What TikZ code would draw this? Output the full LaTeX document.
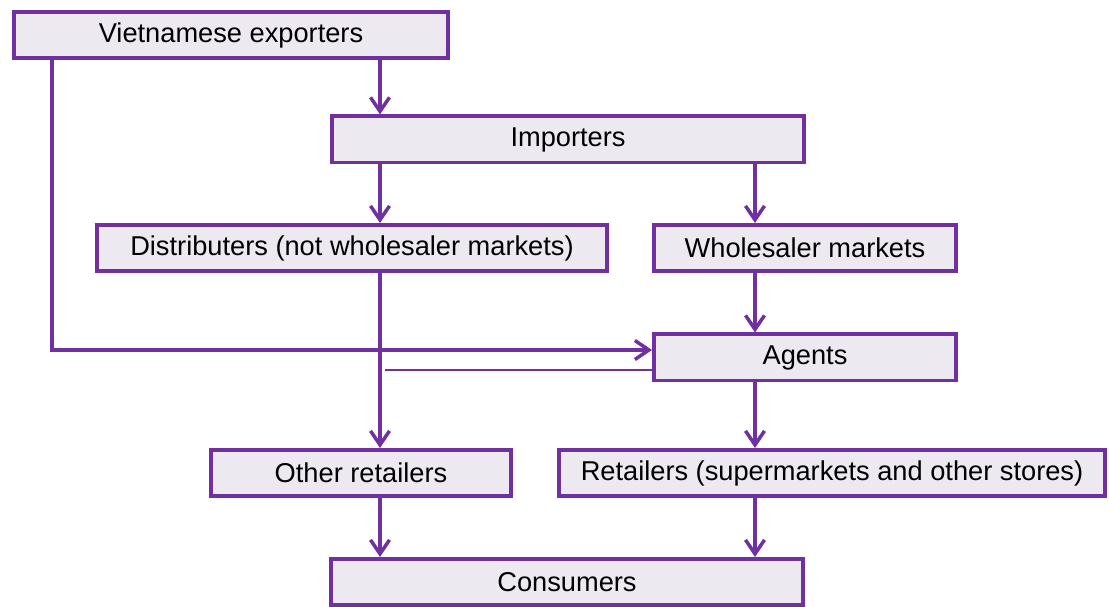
\documentclass[tikz,border=0pt]{standalone}
\usepackage{fontspec}
\setmainfont{Liberation Sans}
\usetikzlibrary{arrows.meta}
\definecolor{boxline}{RGB}{112,48,160}
\definecolor{boxfill}{RGB}{236,233,241}

\tikzset{
  flow/.style={draw=boxline, line width=2pt,
    -{Straight Barb[length=2.8mm, width=3.8mm]}}
}

\begin{document}
\begin{tikzpicture}[x=0.02cm, y=-0.02cm,
  every node/.style={draw=boxline, fill=boxfill, line width=2pt,
    minimum height=0.93cm, inner sep=0, font=\fontsize{15.5}{18}\selectfont}]
  \useasboundingbox (0,0) rectangle (1109,607);

  \node[minimum width=8.69cm]
    (vn) at (231, 35) {Vietnamese exporters};

  \node[minimum width=9.45cm]
    (imp) at (568, 139.5) {Importers};

  \node[minimum width=10.21cm]
    (dist) at (352, 248) {Distributers (not wholesaler markets)};

  \node[minimum width=6.05cm]
    (whole) at (805, 248) {Wholesaler markets};

  \node[minimum width=6.05cm]
    (ag) at (805, 357.5) {Agents};

  \node[minimum width=6.01cm]
    (oret) at (361, 473) {Other retailers};

  \node[minimum width=10.93cm]
    (ret) at (832, 473) {Retailers (supermarkets and other stores)};

  \node[minimum width=9.45cm]
    (cons) at (567, 582) {Consumers};

  \coordinate (L) at (380, 0);
  \coordinate (R) at (755, 0);
  \coordinate (K) at (52, 350);
  \coordinate (J) at (385, 370);

  \path
    (vn.south -| L)   edge[flow] (imp.north -| L)
    (imp.south -| L)  edge[flow] (dist.north -| L)
    (imp.south -| R)  edge[flow] (whole.north -| R)
    (dist.south -| L) edge[flow] (oret.north -| L)
    (whole.south -| R) edge[flow] (ag.north -| R)
    (ag.south -| R)   edge[flow] (ret.north -| R)
    (oret.south -| L) edge[flow] (cons.north -| L)
    (ret.south -| R)  edge[flow] (cons.north -| R);

  \draw[flow]
    (vn.south -| K) |- (ag.west |- K);

  \draw[line width=1.5pt, boxline]
    (ag.west |- J) -- (J);
\end{tikzpicture}
\end{document}
